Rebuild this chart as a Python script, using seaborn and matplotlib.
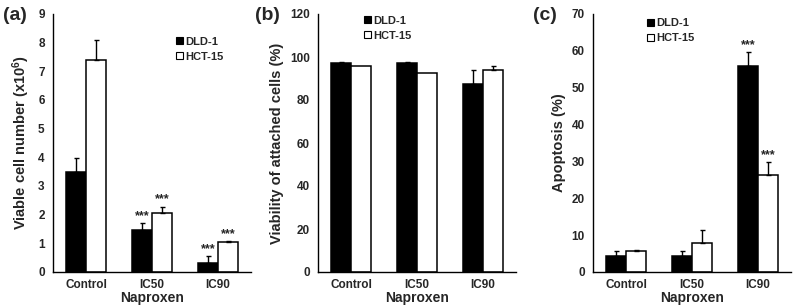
import pandas as pd
import seaborn as sns
import matplotlib
matplotlib.use('Agg')
import matplotlib.pyplot as plt
from matplotlib.patches import Patch

# datos
groups = ['Control', 'IC50', 'IC90']
lines = ['DLD-1', 'HCT-15']

cell_dld = [3.5, 1.45, 0.3]
cell_dld_err = [0.47, 0.25, 0.25]
cell_hct = [7.4, 2.05, 1.03]
cell_hct_err = [0.7, 0.23, 0.04]
cell_stars_dld = [False, True, True]
cell_stars_hct = [False, True, True]

via_dld = [97.4, 97.4, 87.3]
via_dld_err = [0.4, 0.4, 6.8]
via_hct = [96.0, 92.6, 94.1]
via_hct_err = [0.0, 0.0, 1.9]

apo_dld = [4.4, 4.4, 56.0]
apo_dld_err = [1.3, 1.3, 3.6]
apo_hct = [5.7, 8.0, 26.4]
apo_hct_err = [0.2, 3.4, 3.4]
apo_stars_dld = [False, False, True]
apo_stars_hct = [False, False, True]

sns.set_theme(style="white")
plt.rcParams['font.family'] = ['Liberation Sans', 'DejaVu Sans']
plt.rcParams['font.weight'] = 'bold'
plt.rcParams['mathtext.fontset'] = 'custom'
plt.rcParams['mathtext.rm'] = 'Liberation Sans:bold'
plt.rcParams['mathtext.default'] = 'rm'

fig = plt.figure(figsize=(7.94, 3.05), dpi=100)

# (etiqueta, eje y, datos..., ymax, paso, borde izq. en px, leyenda, x de la etiqueta en px)
panels = [
    ('(a)', 'Viable cell number (x10$^{6}$)', cell_dld, cell_dld_err, cell_hct, cell_hct_err,
     cell_stars_dld, cell_stars_hct, 9, 1, 53, (0.6, 0.93), 3),
    ('(b)', 'Viability of attached cells (%)', via_dld, via_dld_err, via_hct, via_hct_err,
     [False] * 3, [False] * 3, 120, 20, 318, (0.21, 1.01), 255),
    ('(c)', 'Apoptosis (%)', apo_dld, apo_dld_err, apo_hct, apo_hct_err,
     apo_stars_dld, apo_stars_hct, 70, 10, 593, (0.25, 1.0), 533),
]

for tag, ylab, dld, dld_err, hct, hct_err, st_dld, st_hct, ymax, step, left_px, leg_pos, tag_x in panels:
    ax = fig.add_axes([left_px / 794, 1 - 272 / 305, 198 / 794, 258 / 305])
    df = pd.DataFrame({
        'grupo': groups * 2,
        'linea': [lines[0]] * 3 + [lines[1]] * 3,
        'valor': dld + hct,
    })
    sns.barplot(data=df, x='grupo', y='valor', hue='linea', hue_order=lines,
                order=groups, palette=['black', 'white'], width=0.6, gap=0,
                errorbar=None, edgecolor='black', linewidth=1.1, legend=False,
                saturation=1, ax=ax)

    # barras de error solo hacia arriba (estilo Excel)
    errs = dld_err + hct_err
    stars = st_dld + st_hct
    for patch, val, err, st in zip(ax.patches, dld + hct, errs, stars):
        xc = patch.get_x() + patch.get_width() / 2
        if err > 0:
            ax.errorbar(xc, val, yerr=[[0], [err]], fmt='none', ecolor='black',
                        elinewidth=1, capsize=1.8, capthick=1, zorder=1)
        if st:
            ax.annotate('***', (xc, val + err), xytext=(0, 3), textcoords='offset points',
                        ha='center', va='baseline', fontsize=9, fontweight='bold')

    ax.set_ylim(0, ymax)
    ax.set_xlim(-0.5, 2.5)
    ax.set_yticks(range(0, ymax + 1, step))
    ax.tick_params(axis='y', direction='out', length=3, width=1, color='black',
                   labelsize=8.5, pad=3)
    ax.tick_params(axis='x', length=0, labelsize=8.5, pad=5)
    for lbl in ax.get_xticklabels() + ax.get_yticklabels():
        lbl.set_fontweight('bold')
    ax.set_xlabel('Naproxen', fontsize=10, fontweight='bold', labelpad=0)
    ax.set_ylabel(ylab, fontsize=10.5, fontweight='bold', labelpad=4)
    for side in ['top', 'right']:
        ax.spines[side].set_visible(False)
    for side in ['left', 'bottom']:
        ax.spines[side].set_color('black')
        ax.spines[side].set_linewidth(1)

    handles = [Patch(facecolor='black', edgecolor='black', linewidth=0.8),
               Patch(facecolor='white', edgecolor='black', linewidth=0.8)]
    ax.legend(handles, lines, loc='upper left', bbox_to_anchor=leg_pos, frameon=False,
              handlelength=0.6, handleheight=0.6, handletextpad=0.2, labelspacing=0.45,
              borderaxespad=0, prop={'size': 8, 'weight': 'bold'})

    fig.text(tag_x / 794, 1 - 15 / 305, tag, fontsize=14, fontweight='bold',
             va='center', ha='left')

fig.savefig('out.png', dpi=100)
